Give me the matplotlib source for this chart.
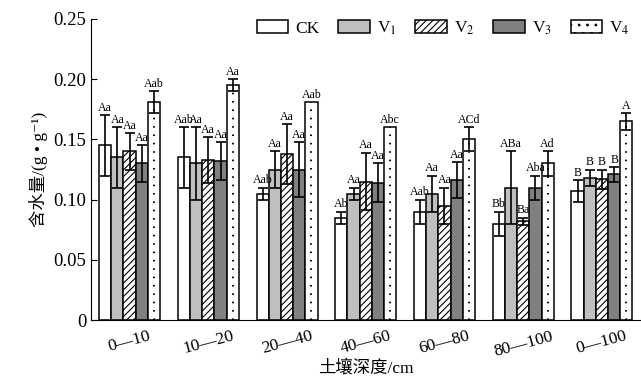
import numpy as np
import matplotlib
matplotlib.use("Agg")
import matplotlib.pyplot as plt
from matplotlib.patches import Patch

plt.rcParams['font.family'] = ['Liberation Serif', 'Noto Sans CJK SC', 'DejaVu Sans']
plt.rcParams['mathtext.fontset'] = 'stix'
plt.rcParams['hatch.linewidth'] = 0.8

depths = ['0—10', '10—20', '20—40', '40—60', '60—80', '80—100', '0—100']
series = ['CK', 'V$_1$', 'V$_2$', 'V$_3$', 'V$_4$']

# mean water content per series and depth
ck = [0.145, 0.135, 0.105, 0.085, 0.090, 0.080, 0.107]
v1 = [0.135, 0.130, 0.125, 0.105, 0.105, 0.110, 0.118]
v2 = [0.140, 0.133, 0.138, 0.115, 0.095, 0.082, 0.117]
v3 = [0.130, 0.132, 0.125, 0.114, 0.116, 0.110, 0.121]
v4 = [0.181, 0.195, 0.181, 0.160, 0.150, 0.130, 0.165]

ck_err = [0.025, 0.025, 0.005, 0.005, 0.010, 0.010, 0.009]
v1_err = [0.025, 0.030, 0.015, 0.005, 0.015, 0.030, 0.007]
v2_err = [0.015, 0.019, 0.025, 0.024, 0.015, 0.003, 0.008]
v3_err = [0.015, 0.016, 0.023, 0.016, 0.015, 0.010, 0.006]
v4_err = [0.009, 0.005, 0.0, 0.0, 0.010, 0.010, 0.007]

ck_lab = ['Aa', 'Aab', 'Aab', 'Ab', 'Aab', 'Bb', 'B']
v1_lab = ['Aa', 'Aa', 'Aa', 'Aa', 'Aa', 'ABa', 'B']
v2_lab = ['Aa', 'Aa', 'Aa', 'Aa', 'Aa', 'Ba', 'B']
v3_lab = ['Aa', 'Aa', 'Aa', 'Aa', 'Aa', 'Aba', 'B']
v4_lab = ['Aab', 'Aa', 'Aab', 'Abc', 'ACd', 'Ad', 'A']

means = [ck, v1, v2, v3, v4]
errs = [ck_err, v1_err, v2_err, v3_err, v4_err]
labs = [ck_lab, v1_lab, v2_lab, v3_lab, v4_lab]
colors = ['white', '#bfbfbf', 'white', '#808080', 'white']
hatches = [None, None, '/////', None, None]
legend_hatches = [None, None, '/////', None, '..']

fig = plt.figure(figsize=[6.41, 3.87], dpi=100)
ax = fig.add_axes([0.142, 0.173, 0.856, 0.778])

x = np.arange(len(depths))
w = 0.155
for i in range(5):
    xs = x + (i - 2) * w
    ax.bar(xs, means[i], w, color=colors[i], edgecolor='black', linewidth=1.1,
           hatch=hatches[i], zorder=2)
    e = np.array(errs[i])
    m = np.array(means[i])
    if i == 4:
        # dotted fill: one column of dots down the middle of each bar
        ax.vlines(xs, 0, m, colors='black', linestyles=(0, (0.8, 3.5)),
                  linewidth=1.4, zorder=2.5)
    ax.errorbar(xs[e > 0], m[e > 0], yerr=e[e > 0], fmt='none', ecolor='black',
                elinewidth=1.2, capsize=3.5, capthick=1.2, zorder=3)
    for xx, mm, ee, t in zip(xs, m, e, labs[i]):
        ax.text(xx, mm + ee + 0.001, t, ha='center', va='bottom', fontsize=8.6)

ax.set_xlim(-0.49, 6.48)
ax.set_ylim(0, 0.25)
ax.set_yticks([0, 0.05, 0.10, 0.15, 0.20, 0.25])
ax.set_yticklabels(['0', '0.05', '0.10', '0.15', '0.20', '0.25'])
ax.tick_params(axis='y', direction='in', length=4, labelsize=13.5)
ax.set_xticks(x)
ax.set_xticklabels(depths, rotation=15, fontsize=12.5)
ax.tick_params(axis='x', length=0, pad=6)
for s in ['top', 'right']:
    ax.spines[s].set_visible(False)

ax.set_xlabel('土壤深度/cm', fontsize=12.5, labelpad=0)
ax.set_ylabel('含水量/(g • g⁻¹)', fontsize=12.5)

handles = [Patch(facecolor=colors[i], edgecolor='black', linewidth=1.1,
                 hatch=legend_hatches[i], label=series[i]) for i in range(5)]
ax.legend(handles=handles, loc='upper right', ncol=5, frameon=False, fontsize=12.5,
          handlelength=1.8, handleheight=0.75, columnspacing=1.1, handletextpad=0.4,
          bbox_to_anchor=(1.01, 1.05))

fig.savefig('out.png', dpi=100)
